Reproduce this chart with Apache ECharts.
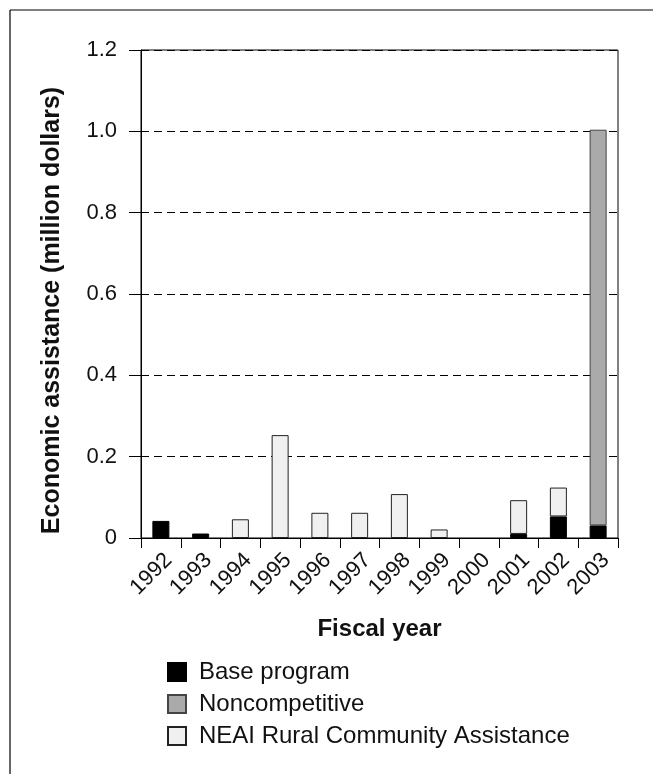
<!DOCTYPE html>
<html>
<head>
<meta charset="utf-8">
<script src="https://cdn.jsdelivr.net/npm/echarts@6/dist/echarts.min.js"></script>
<style>
  html, body { margin: 0; padding: 0; background: #fff; }
  #chart { width: 653px; height: 774px; }
</style>
</head>
<body>
<div id="chart"></div>
<script>
// Fiscal years on the category axis
const years = ['1992', '1993', '1994', '1995', '1996', '1997', '1998', '1999', '2000', '2001', '2002', '2003'];

// Economic assistance by program, million dollars
const basePrograms = [0.042, 0.011, 0, 0, 0, 0, 0, 0, 0, 0.010, 0.053, 0.031];
const noncompetitive = [0, 0, 0, 0, 0, 0, 0, 0, 0, 0, 0, 0.973];
const neaiRural = [0, 0, 0.046, 0.253, 0.062, 0.062, 0.108, 0.021, 0, 0.083, 0.071, 0];

// Value axis ticks
const yTicks = [0, 0.2, 0.4, 0.6, 0.8, 1.0, 1.2];

const FONT = '"Liberation Sans", Arial, sans-serif';

// Empty components are left out so no zero-height outline is stroked
const asBarData = arr => arr.map(v => (v === 0 ? '-' : v));

const chart = echarts.init(document.getElementById('chart'), null, { renderer: 'canvas' });

const barStyle = (fill, stroke) => ({ color: fill, borderColor: stroke, borderWidth: 1 });

chart.setOption({
  backgroundColor: '#ffffff',
  animation: false,
  textStyle: { fontFamily: FONT },
  graphic: [
    // open frame along the top and left edges
    { type: 'line', shape: { x1: 10, y1: 10, x2: 653, y2: 10 }, style: { stroke: '#000', lineWidth: 1.2 } },
    { type: 'line', shape: { x1: 10, y1: 10, x2: 10, y2: 774 }, style: { stroke: '#000', lineWidth: 1.2 } }
  ],
  grid: {
    left: 141, right: 35, top: 50, bottom: 236,
    show: true, borderColor: '#000', borderWidth: 1
  },
  legend: {
    orient: 'vertical',
    left: 162, top: 655,
    itemWidth: 18, itemHeight: 18, itemGap: 8,
    icon: 'rect',
    textStyle: { fontFamily: FONT, fontSize: 24, lineHeight: 24, color: '#111', padding: [0, 0, 0, 8] },
    data: ['Base program', 'Noncompetitive', 'NEAI Rural Community Assistance']
  },
  xAxis: {
    type: 'category',
    data: years,
    boundaryGap: true,
    name: 'Fiscal year',
    nameLocation: 'middle',
    nameGap: 79,
    nameTextStyle: { fontFamily: FONT, fontSize: 24, fontWeight: 'bold', color: '#111' },
    axisLine: { lineStyle: { color: '#000', width: 1 } },
    axisTick: { show: true, inside: false, length: 10, alignWithLabel: false, lineStyle: { color: '#000' } },
    axisLabel: {
      rotate: 45, margin: 11, align: 'right', verticalAlign: 'top',
      fontFamily: FONT, fontSize: 22, color: '#111', interval: 0
    },
    splitLine: { show: false }
  },
  yAxis: {
    type: 'value',
    min: yTicks[0], max: yTicks[yTicks.length - 1], interval: 0.2,
    name: 'Economic assistance (million dollars)',
    nameLocation: 'middle',
    nameGap: 76,
    nameTextStyle: { fontFamily: FONT, fontSize: 25, fontWeight: 'bold', color: '#111', padding: [0, 33, 0, 0] },
    axisLine: { show: true, lineStyle: { color: '#000', width: 1 } },
    axisTick: { show: true, inside: false, length: 12, lineStyle: { color: '#000' } },
    axisLabel: {
      margin: 24, fontFamily: FONT, fontSize: 22, color: '#111',
      formatter: v => (v === 0 ? '0' : v.toFixed(1))
    },
    splitLine: { show: true, lineStyle: { color: '#000', type: [8, 5], width: 1 } }
  },
  series: [
    {
      name: 'Base program', type: 'bar', stack: 'total', barWidth: 17,
      itemStyle: barStyle('#000000', '#000000'),
      data: asBarData(basePrograms)
    },
    {
      name: 'Noncompetitive', type: 'bar', stack: 'total', barWidth: 17,
      itemStyle: barStyle('#aaaaaa', '#444444'),
      data: asBarData(noncompetitive)
    },
    {
      name: 'NEAI Rural Community Assistance', type: 'bar', stack: 'total', barWidth: 17,
      itemStyle: barStyle('#f0f0f0', '#222222'),
      data: asBarData(neaiRural)
    }
  ]
});
</script>
</body>
</html>
